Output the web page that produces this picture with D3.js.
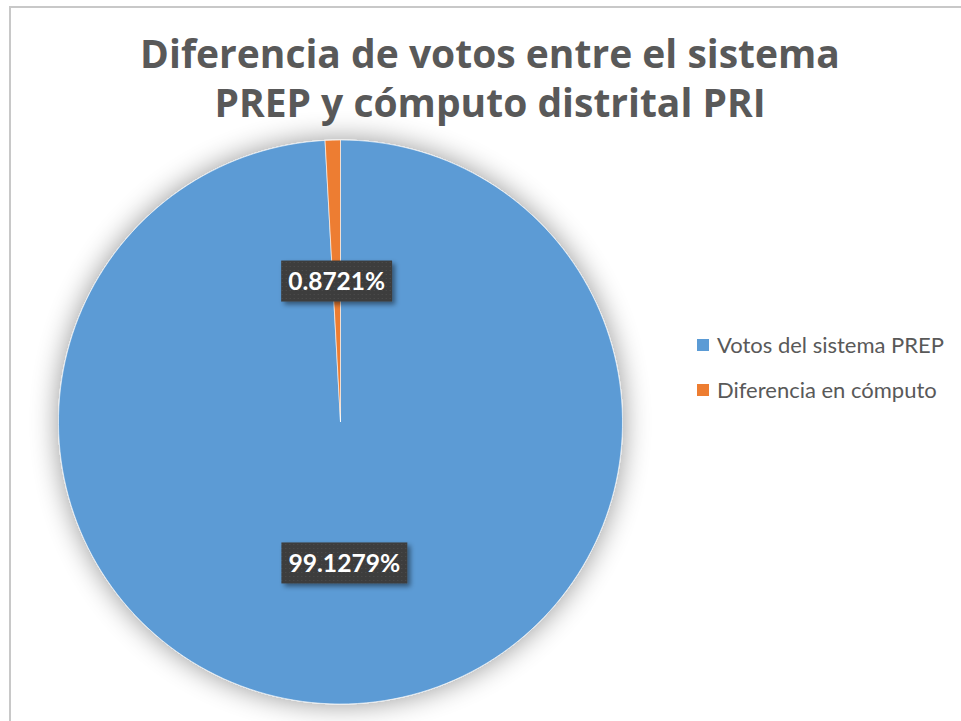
<!DOCTYPE html>
<html>
<head>
<meta charset="utf-8">
<script src="https://cdn.jsdelivr.net/npm/d3@7"></script>
<style>
  html, body { margin: 0; padding: 0; background: #ffffff; }
  svg { display: block; }
</style>
</head>
<body>
<script>
const titleLines = ["Diferencia de votos entre el sistema", "PREP y cómputo distrital PRI"];
const categories = ["Votos del sistema PREP", "Diferencia en cómputo"];
const values = [99.1279, 0.8721];
const valueLabels = ["99.1279%", "0.8721%"];
const colors = ["#5B9BD5", "#ED7D31"];

const W = 961, H = 721;
const FONT = "Lato, 'Open Sans', 'Noto Sans', sans-serif";
const TFONT = "'Open Sans', Lato, 'Noto Sans', sans-serif";
const svg = d3.select("body").append("svg").attr("width", W).attr("height", H);

const defs = svg.append("defs");
const glow = defs.append("filter").attr("id", "glow")
  .attr("x", "-20%").attr("y", "-20%").attr("width", "140%").attr("height", "140%");
glow.append("feGaussianBlur").attr("in", "SourceAlpha").attr("stdDeviation", 14).attr("result", "b");
glow.append("feComponentTransfer").attr("in", "b").attr("result", "c")
  .append("feFuncA").attr("type", "linear").attr("slope", 0.42);
const m = glow.append("feMerge");
m.append("feMergeNode").attr("in", "c");
m.append("feMergeNode").attr("in", "SourceGraphic");

const lblShadow = defs.append("filter").attr("id", "lblShadow")
  .attr("x", "-20%").attr("y", "-30%").attr("width", "150%").attr("height", "180%");
lblShadow.append("feDropShadow").attr("dx", 3).attr("dy", 3).attr("stdDeviation", 2.5)
  .attr("flood-color", "#000").attr("flood-opacity", 0.45);

const pat = defs.append("pattern").attr("id", "dots").attr("patternUnits", "userSpaceOnUse")
  .attr("width", 4).attr("height", 4);
pat.append("rect").attr("width", 4).attr("height", 4).attr("fill", "#3d3d3d");
pat.append("rect").attr("x", 1).attr("y", 1).attr("width", 1).attr("height", 1).attr("fill", "#4f4f4f");

// chart frame
svg.append("rect").attr("x", 10).attr("y", 7).attr("width", 1000).attr("height", 800)
  .attr("fill", "#ffffff").attr("stroke", "#c8c8c8").attr("stroke-width", 2);

function fit(sel, target) {
  const fs = parseFloat(sel.attr("font-size"));
  const w = sel.node().getComputedTextLength();
  sel.attr("font-size", (fs * target / w).toFixed(2));
}

// title
const t1 = svg.append("text").attr("x", 490).attr("y", 68).attr("text-anchor", "middle")
  .attr("font-family", TFONT).attr("font-weight", 700).attr("font-size", 36).attr("fill", "#595959")
  .text(titleLines[0]);
fit(t1, 700);
const t2 = svg.append("text").attr("x", 490).attr("y", 117).attr("text-anchor", "middle")
  .attr("font-family", TFONT).attr("font-weight", 700).attr("font-size", t1.attr("font-size")).attr("fill", "#595959")
  .text(titleLines[1]);

// pie
const cx = 340.5, cy = 422, r = 282;
const pie = d3.pie().sort(null).value(d => d.v);
const data = categories.map((c, i) => ({ c, v: values[i], lab: valueLabels[i], col: colors[i] }));
const arcs = pie(data);
const arc = d3.arc().innerRadius(0).outerRadius(r);
const g = svg.append("g").attr("transform", `translate(${cx},${cy})`);
g.append("g").attr("filter", "url(#glow)")
  .selectAll("path").data(arcs).join("path")
  .attr("d", arc).attr("fill", d => d.data.col)
  .attr("stroke", "#ffffff").attr("stroke-width", 0.6);

// data labels
const labelArc = d3.arc().innerRadius(0).outerRadius(r);
arcs.forEach(d => {
  const [lx, ly] = labelArc.centroid(d);
  const lg = g.append("g").attr("transform", `translate(${lx},${ly})`);
  const rect = lg.append("rect").attr("fill", "url(#dots)").attr("filter", "url(#lblShadow)");
  const tx = lg.append("text").attr("text-anchor", "middle").attr("dy", "0.36em")
    .attr("font-family", FONT).attr("font-weight", 700).attr("font-size", 22).attr("fill", "#ffffff")
    .text(d.data.lab);
  fit(tx, d.data.lab.length === 7 ? 97 : 112);
  const w = tx.node().getComputedTextLength() + 14;
  rect.attr("x", -w / 2).attr("y", -20.5).attr("width", w).attr("height", 41);
});

// legend
const legend = svg.append("g");
const leg = legend.selectAll("g").data(data).join("g")
  .attr("transform", (d, i) => `translate(697,${345 + i * 45})`);
leg.append("rect").attr("x", 0).attr("y", -6).attr("width", 12).attr("height", 12).attr("fill", d => d.col);
leg.append("text").attr("x", 20).attr("dy", "0.35em")
  .attr("font-family", FONT).attr("font-size", 18).attr("fill", "#595959")
  .text(d => d.c);
const lt = leg.select("text");
const first = d3.select(lt.nodes()[0]);
fit(first, 227);
leg.selectAll("text").attr("font-size", first.attr("font-size"));
</script>
</body>
</html>
